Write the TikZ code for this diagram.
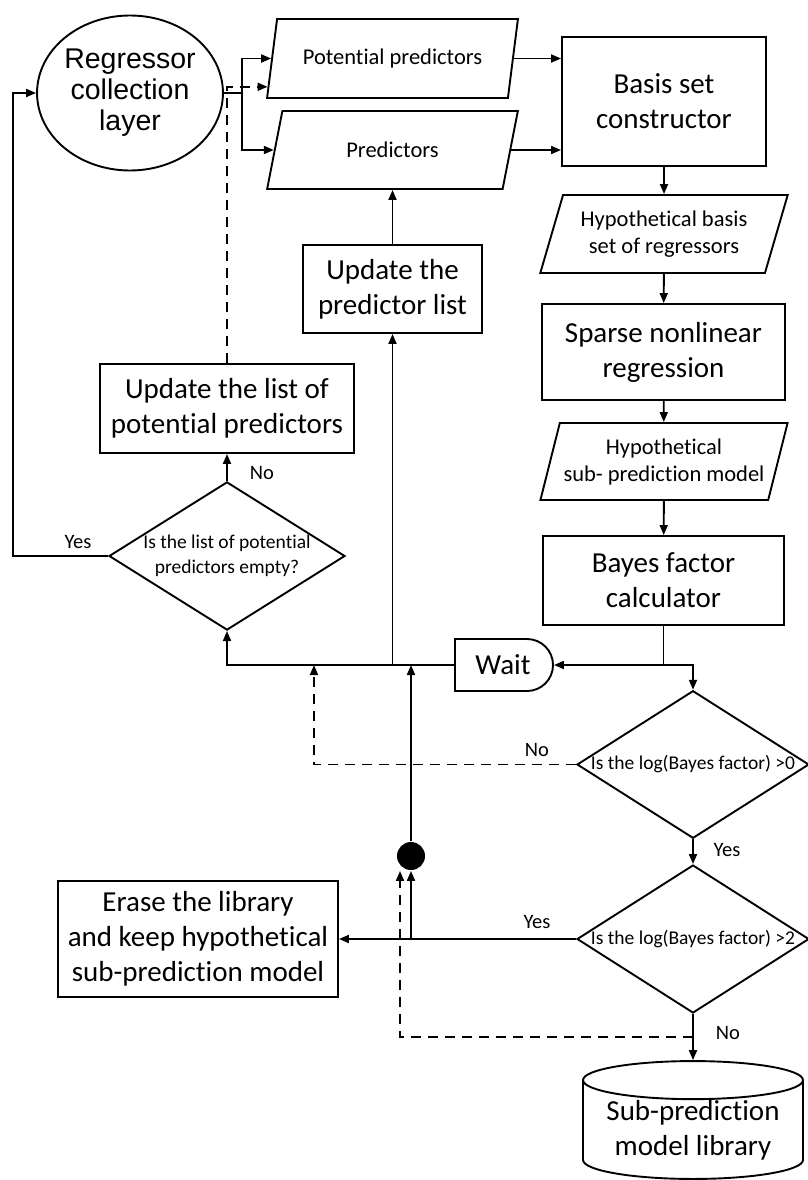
\documentclass[tikz,border=0pt]{standalone}
\usepackage{fontspec}
\setmainfont{Carlito}[Ligatures=NoCommon]
\newfontfamily\arialfont{Liberation Sans}
\usetikzlibrary{shapes.geometric,shapes.misc,arrows.meta,calc}

\begin{document}
\begin{tikzpicture}
  [x=1pt,y=-1pt,line width=1.9pt,>={Triangle[length=10pt,width=8pt]},
   every node/.style={align=center,inner sep=0pt},
   box/.style={rectangle,draw},
   io/.style={trapezium,trapezium left angle=68,trapezium right angle=112,
     trapezium stretches=true,draw,font=\fontsize{22.5}{27}\selectfont},
   ask/.style={diamond,draw,aspect=1.57,font=\fontsize{19.5}{25}\selectfont},
   big/.style={font=\fontsize{29}{35}\selectfont},
   lbl/.style={font=\fontsize{20.5}{24}\selectfont},
   fb/.style={dash pattern=on 10pt off 7pt}]
  \useasboundingbox (0,0) rectangle (808,1180);
  \node[ellipse,draw,minimum width=175,minimum height=155,
    font=\arialfont\fontsize{28.5}{31}\selectfont] (reg) at (130,93) {Regressor\\collection\\layer};
  \node[io,minimum width=251,minimum height=79] (pp) at (392.5,58.5) {Potential predictors};
  \node[io,minimum width=251,minimum height=78] (pr) at (392.5,150) {Predictors};
  \node[box,big,minimum width=204,minimum height=129] (bsc) at (664,101.5) {Basis set\\constructor};
  \node[io,minimum width=248,minimum height=78] (hbs) at (664,234) {Hypothetical basis\\set of regressors};
  \node[box,big,minimum width=243,minimum height=96] (snr) at (663.5,352) {Sparse nonlinear\\regression};
  \node[io,minimum width=248,minimum height=77] (hsm) at (664,461.5) {Hypothetical\\sub- prediction model};
  \node[box,big,minimum width=241,minimum height=89] (bfc) at (663.5,580.5) {Bayes factor\\calculator};
  \node[rounded rectangle,rounded rectangle left arc=none,draw,big,
    minimum width=98,minimum height=52] (wait) at (503,665) {Wait};
  \node[ask,minimum width=232,minimum height=147] (gt0) at (693,764.5) {Is the log(Bayes factor) >0};
  \node[ask,minimum width=232,minimum height=148] (gt2) at (693,939) {Is the log(Bayes factor) >2};
  \node[cylinder,shape border rotate=90,aspect=0.22,draw,big,
    minimum width=220,minimum height=100] (lib) at (693,1130) {Sub-prediction\\model library};
  \node[box,big,minimum width=280,minimum height=116] (erase) at (198,939)
    {Erase the library\\and keep hypothetical\\sub-prediction model};
  \node[circle,fill,minimum size=28] (dot) at (411,856) {};
  \node[box,big,minimum width=179,minimum height=88] (upl) at (392.5,289) {Update the\\predictor list};
  \node[box,big,minimum width=254,minimum height=89] (upp) at (227,408.5) {Update the list of\\potential predictors};
  \node[ask,minimum width=236,minimum height=148] (empty) at (227,556) {Is the list of potential\\predictors empty?};
  % branch labels
  \node[lbl] (yes1) at (78,542) {Yes};
  \node[lbl] (no1) at (262,473) {No};
  \node[lbl] (no2) at (537,750) {No};
  \node[lbl] (yes2) at (727,850) {Yes};
  \node[lbl] (yes3) at (537,922) {Yes};
  \node[lbl] (no3) at (728,1033) {No};
  \coordinate (split) at (242,93);
  \coordinate (back) at (13,556);
  \coordinate (nohit) at (314,665);
  \coordinate (dashin) at ($(pp.bottom left corner)!0.15!(pp.top left corner)$);
  \coordinate (bfcsplit) at (bfc.south |- wait.east);
  \coordinate (lowno) at ($(gt2.south)!0.5!(lib.north)$);
  \coordinate (dotin) at ($(dot.south)+(-11,0)$);
  \draw (reg.east) -- (split);
  \foreach \to in {pp,pr}
    \draw[->] (split) |- (\to.left side);
  \foreach \from in {pp,pr}
    \draw[->] (\from.right side) -- (\from.right side -| bsc.west);
  \foreach \from/\to in {bsc/hbs,hbs/snr,snr/hsm,hsm/bfc,upl/pr,gt0/gt2,gt2/lib,empty/upp}
    \draw[->] (\from) -- (\to);
  \draw[->] (bfc.south) -- (bfcsplit) -- (wait.east);
  \draw[->] (bfcsplit) -| (gt0.north);
  \draw[->] (wait.west) -| (empty.south);
  \draw[->] (upl.south |- wait.west) -- (upl.south);
  \draw[->] (empty.west) -- (back) |- (reg.west);
  \draw[fb,->] (upp.north) |- (dashin);
  \draw[fb,->] (gt0.west) -| (nohit);
  \draw[->] (gt2.west) -- (erase.east);
  \draw[->] (dot.south |- gt2.west) -- (dot.south);
  \draw[->] (dot.north) -- (dot |- wait.west);
  \draw[fb,->] (lowno) -| (dotin);
\end{tikzpicture}
\end{document}
